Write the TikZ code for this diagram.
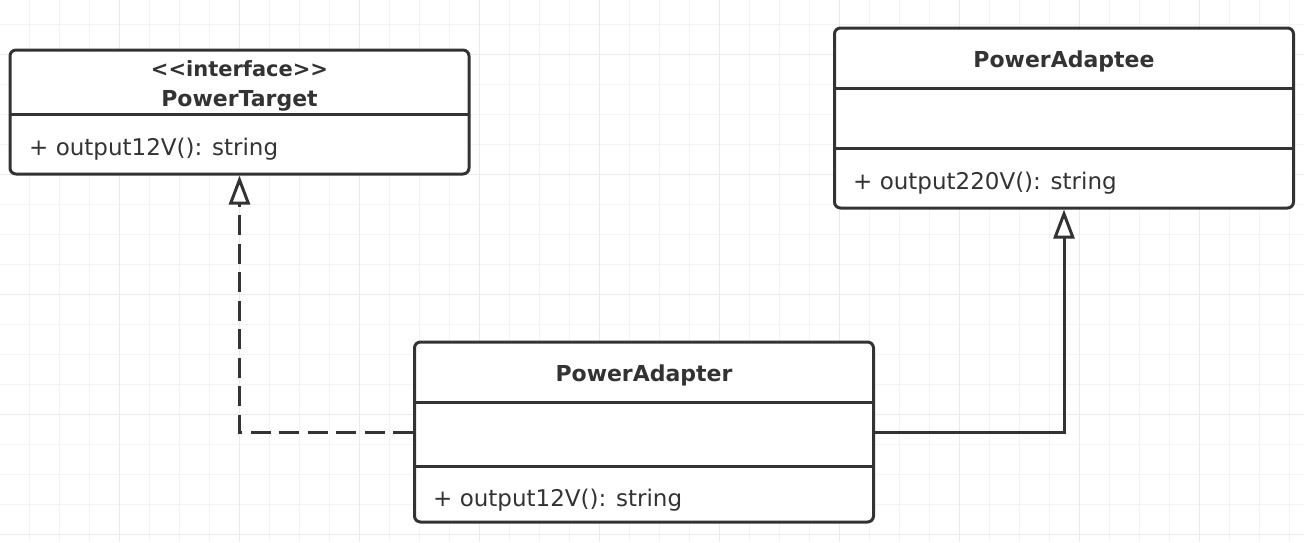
\documentclass[tikz,border=0pt]{standalone}
\usepackage{fontspec}
\setmainfont{DejaVu Sans}
\usetikzlibrary{arrows.meta}
\definecolor{ink}{HTML}{333333}
\definecolor{gridminor}{HTML}{F4F4F4}
\definecolor{gridmajor}{HTML}{EAEAEA}
\tikzset{
  classbox/.style={draw=ink, line width=3pt, rounded corners=6pt, fill=white, inner sep=0pt, minimum width=459pt},
  divider/.style={draw=ink, line width=3pt},
  meth/.style={anchor=base west, inner sep=0pt, font=\fontsize{23}{27}\selectfont, text=ink},
  classtitle/.style={anchor=base, inner sep=0pt, font=\fontsize{22}{26}\selectfont\bfseries, text=ink},
  stereo/.style={anchor=base, inner sep=0pt, font=\fontsize{21}{25}\selectfont\bfseries, text=ink},
  realize/.style={draw=ink, line width=3pt, dash pattern=on 20pt off 8.5pt, -{Triangle[open, length=29pt, width=21pt, fill=white]}},
  generalize/.style={draw=ink, line width=3pt, -{Triangle[open, length=29pt, width=21pt, fill=white]}},
  gridline/.style={line width=1pt},
}
\begin{document}
\begin{tikzpicture}[x=1pt,y=-1pt]
\useasboundingbox (0,0) rectangle (1304,542);
\fill[white] (0,0) rectangle (1304,542);
% grid
\foreach \x in {29,59,...,1289} \draw[gridminor, gridline] (\x,0) -- (\x,542);
\foreach \y in {24,54,...,534} \draw[gridminor, gridline] (0,\y) -- (1304,\y);
\foreach \x in {119,239,...,1199} \draw[gridmajor, gridline] (\x,0) -- (\x,542);
\foreach \y in {54,174,...,534} \draw[gridmajor, gridline] (0,\y) -- (1304,\y);

% PowerTarget
\node[classbox, minimum height=124pt] (target) at (239.5,112) {};
\draw[divider] (10,114) -- (469,114);
\node[stereo] (targetstereo) at (239.5,76) {<\kern0pt<interface>\kern0pt>};
\node[classtitle] (targettitle) at (239.5,106) {PowerTarget};
\node[meth] (targetmeth) at (29,155.5) {+ output12V(): string};

% PowerAdaptee
\node[classbox, minimum height=180pt] (adaptee) at (1064,118) {};
\draw[divider] (834.5,88) -- (1293.5,88);
\draw[divider] (834.5,148) -- (1293.5,148);
\node[classtitle] (adapteetitle) at (1064,67.3) {PowerAdaptee};
\node[meth] (adapteemeth) at (853,189.5) {+ output220V(): string};

% PowerAdapter
\node[classbox, minimum height=180pt] (adapter) at (644,432) {};
\draw[divider] (414.5,402) -- (873.5,402);
\draw[divider] (414.5,466) -- (873.5,466);
\node[classtitle] (adaptertitle) at (644,381.5) {PowerAdapter};
\node[meth] (adaptermeth) at (433,506) {+ output12V(): string};

% connectors
\coordinate (bendL) at (target.south |- adapter.west);
\coordinate (bendR) at (adaptee.south |- adapter.east);
\draw[realize] (adapter.west) -- (bendL) -- (target.south);
\draw[generalize] (adapter.east) -- (bendR) -- (adaptee.south);
\end{tikzpicture}
\end{document}
